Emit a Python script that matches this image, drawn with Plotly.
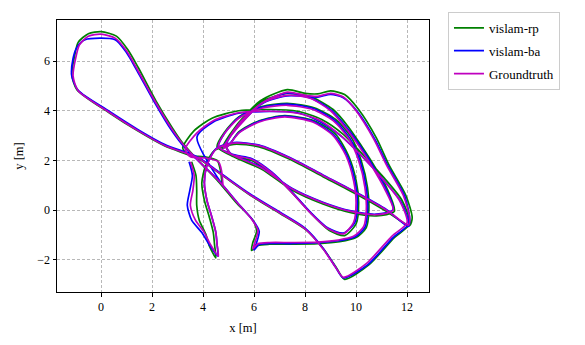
import plotly.graph_objects as go

# Trajectory waypoints (x [m], y [m])
gt_path = [
    (4.78, 0.98), (4.72, 1.6), (4.6, 1.95), (4.1, 2.1), (3.5, 2.15), (3.3, 2.45),
    (3.75, 3.1), (4.4, 3.6), (5.4, 3.92), (6.6, 3.98), (7.7, 3.9), (8.6, 3.6), (9.4, 3.0), (10.2, 2.2),
    (11.0, 1.3), (11.7, 0.4), (12.0, -0.5),
    (11.4, -1.05), (10.4, -2.15), (9.5, -2.7),
    (9.2, -2.3), (8.7, -1.55), (8.0, -0.75), (7.0, -0.1), (5.8, 0.65), (4.7, 1.45), (3.8, 2.1), (2.5, 2.6),
    (1.45, 3.2), (0.3, 3.95), (-0.9, 4.8),
    (-1.1, 5.4), (-1.0, 6.1), (-0.85, 6.65), (-0.5, 7.0), (0.0, 7.08), (0.55, 6.92), (1.0, 6.4), (1.4, 5.7),
    (2.1, 4.4), (2.75, 3.3), (3.25, 2.6),
    (3.9, 1.9), (4.6, 1.2), (5.3, 0.35), (5.9, -0.35), (6.15, -0.8), (6.05, -1.25), (5.95, -1.55),
    (6.15, -1.35), (6.6, -1.3), (7.5, -1.3), (8.5, -1.28), (9.3, -1.2), (9.9, -1.05), (10.3, -0.65),
    (10.4, 0.0), (10.35, 0.9), (10.1, 2.0), (9.7, 2.9), (9.1, 3.6), (8.3, 4.05), (7.3, 4.22), (6.3, 4.1),
    (5.4, 3.7), (4.85, 3.1), (4.6, 2.55),
    (5.3, 2.15), (6.3, 1.7), (7.5, 0.85), (8.7, 0.3), (9.8, -0.05), (10.8, -0.18), (11.45, 0.0),
    (11.1, 0.9), (10.6, 1.8), (10.1, 2.6), (9.6, 3.3), (9.0, 4.0), (8.2, 4.5), (7.3, 4.62), (6.4, 4.35),
    (5.7, 3.8), (5.2, 3.2), (4.9, 2.6), (5.1, 2.25),
    (5.9, 2.05), (6.7, 1.5), (7.4, 0.8), (8.2, -0.1), (8.9, -0.75), (9.5, -0.95), (9.9, -0.5), (10.0, 0.3),
    (9.9, 1.2), (9.6, 2.2), (9.1, 3.0), (8.3, 3.55), (7.2, 3.75), (6.2, 3.55), (5.4, 3.1), (5.0, 2.6),
    (4.8, 2.5), (5.1, 3.0), (5.6, 3.6), (6.3, 4.3), (7.3, 4.75), (8.0, 4.62), (8.5, 4.58), (9.0, 4.7),
    (9.5, 4.55), (10.0, 4.0), (10.7, 2.85), (11.2, 1.8), (11.85, 0.6), (12.1, -0.3), (12.05, -0.6),
    (11.2, 0.0), (10.0, 0.7), (8.7, 1.4), (7.4, 2.1), (6.2, 2.6), (5.2, 2.7), (4.5, 2.45), (4.15, 1.8),
    (4.05, 1.1), (4.15, 0.4), (4.35, -0.3), (4.5, -0.9), (4.55, -1.4), (4.6, -1.85),
    (4.3, -1.4), (4.05, -0.9), (3.7, -0.4), (3.5, 0.2), (3.6, 0.8), (3.65, 1.4), (3.5, 1.95),
]

rp_path = [
    (4.75, 0.95), (4.68, 1.6), (4.55, 2.0), (4.05, 2.15), (3.45, 2.2), (3.2, 2.5),
    (3.65, 3.2), (4.35, 3.7), (5.4, 4.0), (6.6, 4.05), (7.7, 3.98), (8.65, 3.65), (9.5, 3.05), (10.3, 2.2),
    (11.1, 1.3), (11.8, 0.4), (12.1, -0.55),
    (11.5, -1.1), (10.5, -2.2), (9.55, -2.78),
    (9.25, -2.35), (8.75, -1.6), (8.05, -0.8), (7.05, -0.15), (5.85, 0.6), (4.75, 1.4), (3.85, 2.05),
    (2.5, 2.58), (1.45, 3.18), (0.3, 3.93), (-0.95, 4.85),
    (-1.15, 5.45), (-1.05, 6.15), (-0.9, 6.75), (-0.5, 7.1), (0.0, 7.18), (0.6, 7.0), (1.05, 6.45),
    (1.45, 5.75), (2.15, 4.4), (2.8, 3.3), (3.2, 2.7),
    (3.85, 1.95), (4.6, 1.15), (5.3, 0.3), (5.95, -0.4), (6.1, -0.85), (5.95, -1.3), (5.9, -1.62),
    (6.15, -1.42), (6.6, -1.37), (7.5, -1.37), (8.5, -1.35), (9.35, -1.27), (10.0, -1.1), (10.4, -0.7),
    (10.5, 0.0), (10.45, 0.9), (10.2, 2.0), (9.8, 2.95), (9.2, 3.65), (8.35, 4.12), (7.3, 4.3), (6.3, 4.17),
    (5.4, 3.75), (4.85, 3.15), (4.55, 2.55),
    (5.3, 2.1), (6.3, 1.65), (7.5, 0.8), (8.7, 0.25), (9.8, -0.1), (10.8, -0.23), (11.5, -0.05),
    (11.2, 0.9), (10.7, 1.8), (10.2, 2.6), (9.7, 3.35), (9.1, 4.05), (8.25, 4.55), (7.3, 4.7), (6.4, 4.42),
    (5.7, 3.85), (5.2, 3.25), (4.9, 2.6), (5.1, 2.2),
    (5.9, 2.0), (6.7, 1.45), (7.45, 0.75), (8.25, -0.15), (8.95, -0.82), (9.55, -1.02), (10.0, -0.55),
    (10.1, 0.3), (10.0, 1.2), (9.7, 2.2), (9.2, 3.05), (8.35, 3.6), (7.2, 3.8), (6.2, 3.6), (5.4, 3.15),
    (5.0, 2.6),
    (4.75, 2.5), (5.05, 3.05), (5.55, 3.7), (6.25, 4.4), (7.3, 4.85), (8.0, 4.7), (8.5, 4.68), (9.0, 4.8),
    (9.55, 4.65), (10.1, 4.05), (10.8, 2.9), (11.3, 1.8), (11.95, 0.6), (12.2, -0.3), (12.1, -0.62),
    (11.2, -0.05), (10.0, 0.65), (8.7, 1.35), (7.4, 2.05), (6.2, 2.55), (5.2, 2.65), (4.45, 2.4), (4.1, 1.8),
    (3.95, 1.1), (4.05, 0.4), (4.25, -0.3), (4.4, -0.9), (4.45, -1.4), (4.5, -1.92),
    (4.25, -1.45), (4.1, -0.95), (3.85, -0.4), (3.75, 0.2), (3.75, 0.8), (3.72, 1.4), (3.55, 1.95),
]

ba_path = [
    (4.78, 0.98), (3.76, 2.94),
    (4.4, 3.55), (5.4, 3.9), (6.6, 3.97), (7.7, 3.92), (8.6, 3.55), (9.45, 2.95), (10.25, 2.15),
    (11.05, 1.25), (11.75, 0.35), (12.05, -0.55),
    (11.45, -1.1), (10.45, -2.2), (9.5, -2.72),
    (9.2, -2.3), (8.7, -1.52), (8.0, -0.72), (7.0, -0.07), (5.8, 0.68), (4.7, 1.48), (3.8, 2.13), (2.5, 2.64),
    (1.45, 3.24), (0.3, 3.99), (-0.9, 4.82),
    (-1.15, 5.4), (-1.1, 6.1), (-0.95, 6.55), (-0.63, 6.86), (0.55, 6.86), (1.0, 6.33), (1.4, 5.63),
    (2.1, 4.33), (2.75, 3.23), (3.25, 2.55),
    (3.95, 1.85), (4.65, 1.15), (5.35, 0.3), (5.95, -0.4), (6.2, -0.85), (6.1, -1.3), (6.0, -1.6),
    (6.2, -1.38), (6.6, -1.34), (7.5, -1.34), (8.5, -1.31), (9.3, -1.23), (9.95, -1.08), (10.35, -0.68),
    (10.45, 0.0), (10.4, 0.9), (10.15, 2.0), (9.75, 2.9), (9.15, 3.62), (8.3, 4.1), (7.3, 4.27), (6.3, 4.14),
    (5.4, 3.73), (4.85, 3.1), (4.6, 2.55),
    (5.3, 2.17), (6.3, 1.72), (7.5, 0.87), (8.7, 0.32), (9.8, -0.03), (10.8, -0.16), (11.45, 0.02),
    (11.15, 0.9), (10.65, 1.8), (10.15, 2.6), (9.65, 3.3), (9.05, 4.0), (8.2, 4.52), (7.3, 4.6), (6.4, 4.33),
    (5.7, 3.78), (5.2, 3.18), (4.9, 2.6), (5.1, 2.27),
    (5.9, 2.08), (6.7, 1.53), (7.4, 0.83), (8.2, -0.07), (8.9, -0.72), (9.5, -0.92), (9.95, -0.5),
    (10.05, 0.3), (9.95, 1.2), (9.65, 2.2), (9.15, 3.0), (8.3, 3.58), (7.2, 3.78), (6.2, 3.58), (5.4, 3.12),
    (5.0, 2.62),
    (4.8, 2.52), (5.1, 3.02), (5.6, 3.62), (6.3, 4.3), (7.3, 4.72), (8.0, 4.6), (8.5, 4.55), (9.0, 4.66),
    (9.5, 4.52), (10.05, 3.97), (10.75, 2.83), (11.25, 1.78), (11.9, 0.58), (12.1, -0.32), (12.05, -0.65),
    (11.2, 0.02), (10.0, 0.72), (8.7, 1.42), (7.4, 2.12), (6.2, 2.62), (5.2, 2.72), (4.5, 2.47), (4.15, 1.8),
    (4.05, 1.1), (4.15, 0.4), (4.35, -0.3), (4.5, -0.9), (4.55, -1.4), (4.58, -1.85),
    (4.25, -1.4), (3.95, -0.9), (3.55, -0.4), (3.38, 0.2), (3.48, 0.8), (3.58, 1.4), (3.45, 1.95),
]

series_names = ["vislam-rp", "vislam-ba", "Groundtruth"]
series_colors = ["#008000", "#0000ff", "#bf00bf"]
x_ticks = [0, 2, 4, 6, 8, 10, 12]
y_ticks = [-2, 0, 2, 4, 6]

FONT = "Liberation Serif"

fig = go.Figure()
for name, color, path in zip(series_names, series_colors, [rp_path, ba_path, gt_path]):
    fig.add_trace(go.Scatter(
        x=[p[0] for p in path], y=[p[1] for p in path],
        mode="lines", name=name, legendgroup=name,
        line=dict(color=color, width=1.7, shape="spline", smoothing=0.7),
    ))

axis_common = dict(
    showgrid=True, gridcolor="#b8b8b8", griddash="3px,2px", gridwidth=0.8,
    showline=True, linecolor="black", linewidth=1, mirror=True,
    ticks="outside", ticklen=3.5, tickwidth=0.8, tickcolor="black",
    zeroline=False, tickfont=dict(family=FONT, size=12, color="black"),
)

fig.update_layout(
    width=585, height=345,
    margin=dict(l=57, r=156, t=13, b=53),
    paper_bgcolor="white", plot_bgcolor="white",
    font=dict(family=FONT, size=12, color="black"),
    xaxis=dict(range=[-1.73, 12.86], tickvals=x_ticks,
               title=dict(text="x [m]", font=dict(family=FONT, size=12.5), standoff=10),
               **axis_common),
    yaxis=dict(range=[-3.29, 7.65], tickvals=y_ticks,
               title=dict(text="y [m]", font=dict(family=FONT, size=12.5), standoff=10),
               **axis_common),
    legend=dict(x=1.051, y=1.03, xanchor="left", yanchor="top",
                bordercolor="#cccccc", borderwidth=1, bgcolor="white",
                font=dict(family=FONT, size=13), itemwidth=30, tracegroupgap=3),
)

fig.write_html("out.html")
